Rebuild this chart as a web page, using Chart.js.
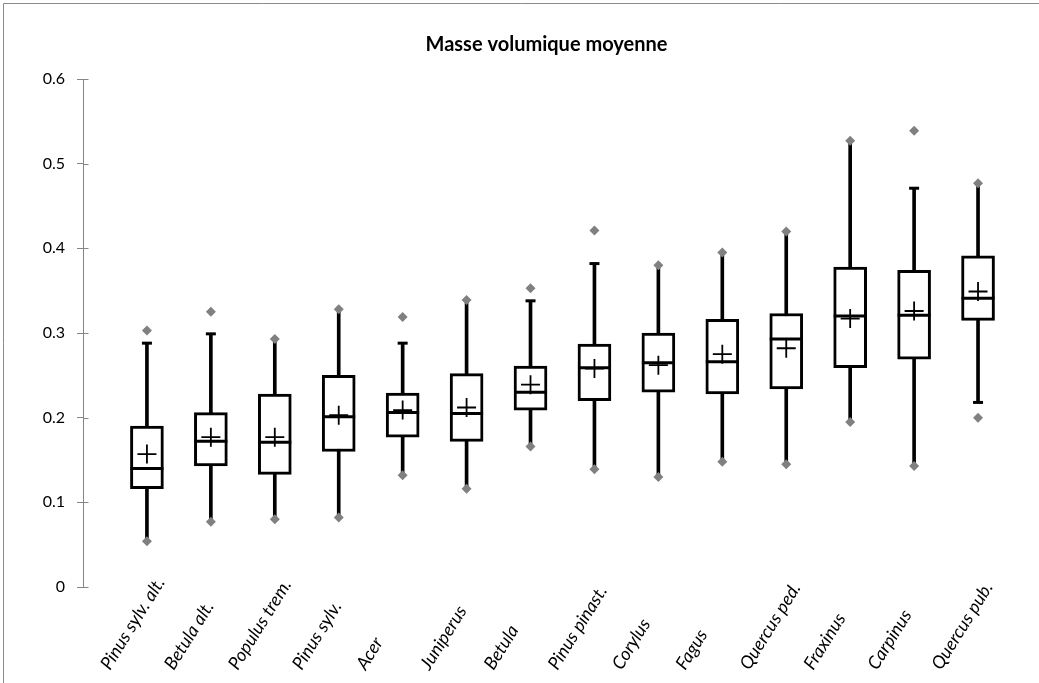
<!DOCTYPE html>
<html>
<head>
<meta charset="utf-8">
<script src="https://cdn.jsdelivr.net/npm/chart.js@4/dist/chart.umd.min.js"></script>
<style>
html,body{margin:0;padding:0;background:#fff;}
#wrap{position:relative;width:1039px;height:683px;}
</style>
</head>
<body>
<div id="wrap"><canvas id="c" width="1039" height="683"></canvas></div>
<script>
const categories = ['Pinus sylv. alt.', 'Betula alt.', 'Populus trem.', 'Pinus sylv.', 'Acer', 'Juniperus', 'Betula', 'Pinus pinast.', 'Corylus', 'Fagus', 'Quercus ped.', 'Fraxinus', 'Carpinus', 'Quercus pub.'];
const maxVals     = [0.303, 0.325, 0.293, 0.328, 0.319, 0.339, 0.353, 0.421, 0.380, 0.395, 0.420, 0.527, 0.539, 0.477];
const whiskerHigh = [0.288, 0.299, 0.293, 0.328, 0.288, 0.339, 0.338, 0.382, 0.380, 0.395, 0.420, 0.527, 0.471, 0.477];
const q3          = [0.190, 0.206, 0.228, 0.250, 0.229, 0.252, 0.261, 0.287, 0.300, 0.316, 0.323, 0.378, 0.374, 0.391];
const median      = [0.140, 0.172, 0.171, 0.201, 0.206, 0.205, 0.230, 0.259, 0.265, 0.266, 0.293, 0.320, 0.321, 0.341];
const q1          = [0.116, 0.143, 0.133, 0.160, 0.177, 0.172, 0.209, 0.220, 0.230, 0.228, 0.234, 0.259, 0.269, 0.315];
const whiskerLow  = [0.054, 0.077, 0.080, 0.082, 0.132, 0.116, 0.166, 0.139, 0.130, 0.148, 0.145, 0.195, 0.143, 0.218];
const minVals     = [0.054, 0.077, 0.080, 0.082, 0.132, 0.116, 0.166, 0.139, 0.130, 0.148, 0.145, 0.195, 0.143, 0.200];
const means       = [0.157, 0.177, 0.177, 0.203, 0.209, 0.212, 0.239, 0.258, 0.262, 0.275, 0.282, 0.317, 0.326, 0.349];
const yTicks      = [0, 0.1, 0.2, 0.3, 0.4, 0.5, 0.6];

const AXIS = '#868686';
const LABEL_FONT = 'italic 18px Lato';
const LABEL_ANGLE = -58 * Math.PI / 180;
const pts = arr => arr.map((v, i) => ({x: i, y: v}));
const capPts = [];
categories.forEach((c, i) => {
  if (whiskerHigh[i] !== maxVals[i]) capPts.push({x: i, y: whiskerHigh[i]});
  if (whiskerLow[i] !== minVals[i]) capPts.push({x: i, y: whiskerLow[i]});
});

const framePlugin = {
  id: 'frame',
  beforeDraw(chart) {
    const ctx = chart.ctx;
    ctx.save();
    ctx.fillStyle = '#fff';
    ctx.fillRect(0, 0, chart.width, chart.height);
    ctx.strokeStyle = '#8a8a8a';
    ctx.lineWidth = 1;
    ctx.beginPath();
    ctx.moveTo(3.5, chart.height);
    ctx.lineTo(3.5, 3.5);
    ctx.lineTo(chart.width, 3.5);
    ctx.stroke();
    ctx.restore();
  },
  afterDraw(chart) {
    const ctx = chart.ctx;
    const ys = chart.scales.y;
    const xs = chart.scales.x;
    const left = Math.round(chart.chartArea.left) + 0.5;
    ctx.save();
    ctx.strokeStyle = AXIS;
    ctx.lineWidth = 1;
    yTicks.forEach(v => {
      const y = Math.round(ys.getPixelForValue(v)) + 0.5;
      ctx.beginPath();
      ctx.moveTo(left, y);
      ctx.lineTo(left + 5, y);
      ctx.stroke();
    });
    ctx.restore();
    // category labels, anchored at their start on a common line
    ctx.save();
    ctx.fillStyle = '#000';
    ctx.font = LABEL_FONT;
    ctx.textAlign = 'left';
    ctx.textBaseline = 'alphabetic';
    categories.forEach((c, i) => {
      const x = xs.getPixelForValue(i);
      ctx.save();
      ctx.translate(x - 37, chart.chartArea.bottom + 84);
      ctx.rotate(LABEL_ANGLE);
      ctx.fillText(c, 0, 0);
      ctx.restore();
    });
    ctx.restore();
  }
};

new Chart(document.getElementById('c'), {
  type: 'bar',
  data: {
    datasets: [
      {type: 'line', data: pts(maxVals), showLine: false, pointStyle: 'rectRot', pointRadius: 5, pointBackgroundColor: '#808080', pointBorderColor: '#808080', pointBorderWidth: 0, order: 0},
      {type: 'line', data: pts(minVals), showLine: false, pointStyle: 'rectRot', pointRadius: 5, pointBackgroundColor: '#808080', pointBorderColor: '#808080', pointBorderWidth: 0, order: 0},
      {type: 'line', data: pts(means), showLine: false, pointStyle: 'cross', pointRadius: 9.5, pointBorderColor: '#000', pointBorderWidth: 1.8, order: 1},
      {type: 'line', data: pts(median), showLine: false, pointStyle: 'line', pointRadius: 16.5, pointBorderColor: '#000', pointBorderWidth: 3, order: 2},
      {type: 'line', data: capPts, showLine: false, pointStyle: 'line', pointRadius: 5, pointBorderColor: '#000', pointBorderWidth: 3, order: 3},
      {type: 'bar', data: categories.map((c, i) => ({x: i, y: [q1[i], q3[i]]})), backgroundColor: '#fff', borderColor: '#000', borderWidth: 3, borderSkipped: false, grouped: false, maxBarThickness: 33, barPercentage: 1, categoryPercentage: 1, order: 4},
      {type: 'bar', data: categories.map((c, i) => ({x: i, y: [whiskerLow[i], whiskerHigh[i]]})), backgroundColor: '#000', borderWidth: 0, grouped: false, maxBarThickness: 3, barPercentage: 1, categoryPercentage: 1, order: 5}
    ]
  },
  options: {
    responsive: false,
    animation: false,
    devicePixelRatio: 1,
    events: [],
    layout: {padding: {left: 0, right: 29, top: 0, bottom: 0}},
    plugins: {
      legend: {display: false},
      tooltip: {enabled: false},
      title: {
        display: true,
        text: 'Masse volumique moyenne',
        fullSize: false,
        color: '#000',
        font: {family: 'Lato', size: 20, weight: 'bold'},
        padding: {top: 33, bottom: 22}
      }
    },
    scales: {
      x: {
        type: 'linear',
        offset: false,
        min: -1,
        max: 13.5,
        afterBuildTicks: s => { s.ticks = categories.map((c, i) => ({value: i})); },
        afterFit: s => { s.height = 96; },
        grid: {display: false},
        border: {display: false},
        ticks: {display: false}
      },
      y: {
        min: 0,
        max: 0.6,
        afterBuildTicks: s => { s.ticks = yTicks.map(v => ({value: v})); },
        afterFit: s => { s.width = 83; },
        grid: {drawOnChartArea: false, color: AXIS, tickColor: AXIS, tickLength: 6, lineWidth: 1},
        border: {display: true, color: AXIS, width: 1},
        ticks: {
          padding: 12,
          color: '#000',
          font: {family: 'Lato', size: 16},
          callback: v => v === 0 ? '0' : v.toFixed(1)
        }
      }
    }
  },
  plugins: [framePlugin]
});
</script>
</body>
</html>
